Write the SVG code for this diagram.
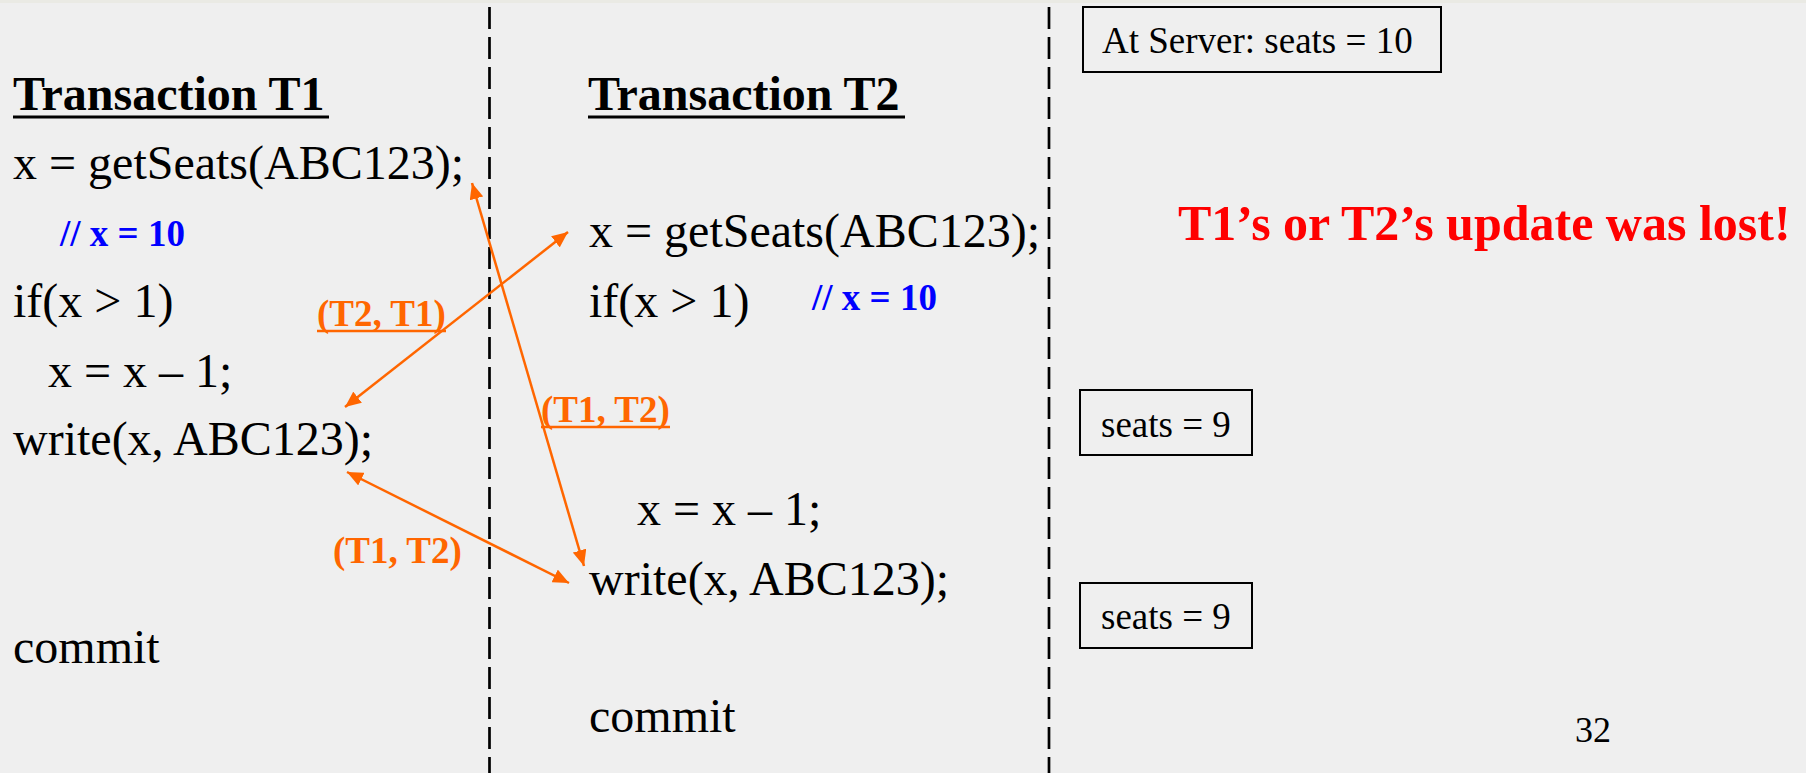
<svg xmlns="http://www.w3.org/2000/svg" width="1806" height="773" viewBox="0 0 1806 773">
<defs>
<style>
.code{font-family:"Liberation Serif","Times New Roman",serif;font-size:48px;fill:#000}
.head{font-family:"Liberation Serif","Times New Roman",serif;font-size:48px;font-weight:bold;fill:#000}
.cmt{font-family:"Liberation Serif","Times New Roman",serif;font-size:37px;font-weight:bold;fill:#0000FF}
.lbl{font-family:"Liberation Serif","Times New Roman",serif;font-size:37px;font-weight:bold;fill:#FF6600}
.srv{font-family:"Liberation Serif","Times New Roman",serif;font-size:37px;fill:#000}
.warn{font-family:"Liberation Serif","Times New Roman",serif;font-size:50px;font-weight:bold;fill:#FF0000}
.ul{stroke:#000;stroke-width:3}
.oul{stroke:#FF6600;stroke-width:2.5}
.div{stroke:#000;stroke-width:2.7;stroke-dasharray:22 8}
.box{fill:none;stroke:#000;stroke-width:2}
.arr{stroke:#FF6600;stroke-width:2.5;fill:none;marker-start:url(#ah);marker-end:url(#ah)}
</style>
<marker id="ah" markerUnits="userSpaceOnUse" markerWidth="17" markerHeight="14" refX="16" refY="7" orient="auto-start-reverse">
<path d="M0,0 L16,7 L0,14 z" fill="#FF6600"/>
</marker>
</defs>
<rect width="1806" height="773" fill="#EFEFEF"/>
<rect width="1806" height="3" fill="#EAEAE4"/>

<g id="dividers">
<line class="div" x1="489.5" y1="7" x2="489.5" y2="773"/>
<line class="div" x1="1049" y1="7" x2="1049" y2="773"/>
</g>

<g id="t1">
<text class="head" x="13" y="110">Transaction T1</text>
<line class="ul" x1="13" y1="117" x2="329" y2="117"/>
<text class="code" x="13" y="179">x = getSeats(ABC123);</text>
<text class="cmt" x="60" y="246">// x = 10</text>
<text class="code" x="13" y="317">if(x &gt; 1)</text>
<text class="code" x="48" y="387">x = x – 1;</text>
<text class="code" x="13" y="455">write(x, ABC123);</text>
<text class="code" x="13" y="663">commit</text>
</g>

<g id="t2">
<text class="head" x="588" y="110">Transaction T2</text>
<line class="ul" x1="588" y1="117" x2="905" y2="117"/>
<text class="code" x="589" y="247">x = getSeats(ABC123);</text>
<text class="code" x="589" y="317">if(x &gt; 1)</text>
<text class="cmt" x="812" y="310">// x = 10</text>
<text class="code" x="637" y="525">x = x – 1;</text>
<text class="code" x="589" y="595">write(x, ABC123);</text>
<text class="code" x="589" y="732">commit</text>
</g>

<g id="server">
<g id="box-init">
<rect class="box" x="1083" y="7" width="358" height="65"/>
<text class="srv" x="1102" y="53">At Server: seats = 10</text>
</g>
<g id="box-9a">
<rect class="box" x="1080" y="390" width="172" height="65"/>
<text class="srv" x="1101" y="437">seats = 9</text>
</g>
<g id="box-9b">
<rect class="box" x="1080" y="583" width="172" height="65"/>
<text class="srv" x="1101" y="629">seats = 9</text>
</g>
<text class="warn" x="1178" y="240">T1’s or T2’s update was lost!</text>
<text class="srv" x="1575" y="742" style="font-size:36px">32</text>
</g>

<g id="connectors">
<line class="arr" x1="345" y1="407" x2="568" y2="232"/>
<line class="arr" x1="472" y1="183" x2="584" y2="566"/>
<line class="arr" x1="347" y1="472" x2="569" y2="583"/>
</g>

<g id="labels">
<text class="lbl" x="317" y="326">(T2, T1)</text>
<line class="oul" x1="317" y1="331" x2="446" y2="331"/>
<text class="lbl" x="541" y="422">(T1, T2)</text>
<line class="oul" x1="541" y1="427" x2="670" y2="427"/>
<text class="lbl" x="333" y="563">(T1, T2)</text>
</g>
</svg>
